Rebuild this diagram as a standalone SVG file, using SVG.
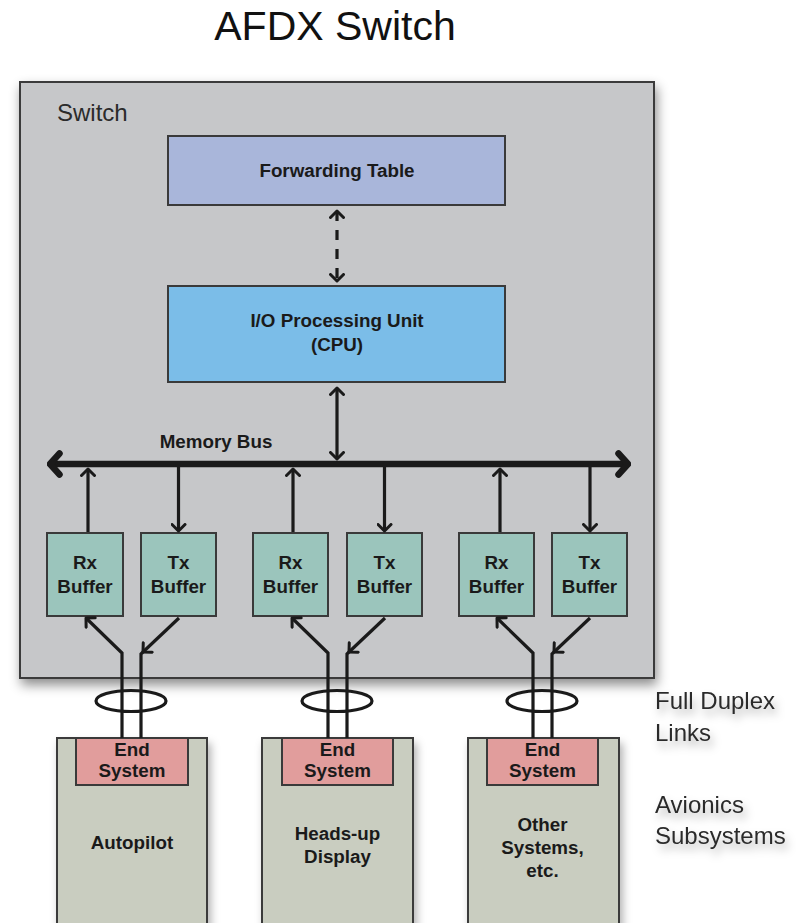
<svg xmlns="http://www.w3.org/2000/svg" width="796" height="923" viewBox="0 0 796 923">
  <defs>
    <filter id="boxShadow" x="-10%" y="-10%" width="125%" height="125%">
      <feDropShadow dx="2" dy="6" stdDeviation="6" flood-color="#000" flood-opacity="0.45"/>
    </filter>
    <filter id="softShadow" x="-20%" y="-20%" width="150%" height="160%">
      <feDropShadow dx="3" dy="6" stdDeviation="4" flood-color="#000" flood-opacity="0.3"/>
    </filter>
    <marker id="chev" viewBox="0 0 10 16" refX="8" refY="8" markerWidth="10" markerHeight="16" markerUnits="userSpaceOnUse" orient="auto-start-reverse">
      <path d="M1.5,1.5 L8,8 L1.5,14.5" fill="none" stroke="#1a1a1a" stroke-width="3" stroke-linecap="round" stroke-linejoin="round"/>
    </marker>
    <marker id="busHead" viewBox="0 0 16 28" refX="13" refY="14" markerWidth="16" markerHeight="28" markerUnits="userSpaceOnUse" orient="auto-start-reverse">
      <path d="M3.5,3.5 L13,14 L3.5,24.5" fill="none" stroke="#1a1a1a" stroke-width="6.5" stroke-linecap="round" stroke-linejoin="round"/>
    </marker>
  </defs>
  <style>
    .title { font-family: "Liberation Sans", Arial, sans-serif; font-size: 41px; fill: #111; }
    .label { font-family: "Liberation Sans", Arial, sans-serif; font-size: 24px; fill: #2b2b2b; }
    .bold { font-family: "Liberation Sans", Arial, sans-serif; font-weight: bold; font-size: 18.8px; fill: #1a1a1a; text-anchor: middle; }
    .box { stroke: #3a3a3a; stroke-width: 2; }
    .wire { fill: none; stroke: #1a1a1a; stroke-width: 3.2; }
  </style>

  <rect width="796" height="923" fill="#ffffff"/>

  <text class="title" x="335" y="40" text-anchor="middle">AFDX Switch</text>

  <!-- switch enclosure -->
  <g id="switch">
    <rect x="20" y="82" width="634" height="596" fill="#c6c7c9" stroke="#3a3a3a" stroke-width="2" filter="url(#boxShadow)"/>
    <text class="label" x="57" y="121">Switch</text>
  </g>

  <g id="forwarding-table">
    <rect class="box" x="168" y="136" width="337" height="69" fill="#a9b6da"/>
    <text class="bold" x="337" y="177">Forwarding Table</text>
  </g>

  <g id="cpu">
    <rect class="box" x="168" y="286" width="337" height="96" fill="#7bbde8"/>
    <text class="bold" x="337" y="327">I/O Processing Unit</text>
    <text class="bold" x="337" y="351">(CPU)</text>
  </g>

  <g id="memory-bus">
    <text class="bold" x="216" y="448">Memory Bus</text>
  </g>

  <!-- buffers -->
  <g id="rx1"><rect class="box" x="47" y="533" width="76" height="83" fill="#9bc5bc"/><text class="bold" x="85" y="569">Rx</text><text class="bold" x="85" y="593">Buffer</text></g>
  <g id="tx1"><rect class="box" x="141" y="533" width="75" height="83" fill="#9bc5bc"/><text class="bold" x="178.5" y="569">Tx</text><text class="bold" x="178.5" y="593">Buffer</text></g>
  <g id="rx2"><rect class="box" x="253" y="533" width="75" height="83" fill="#9bc5bc"/><text class="bold" x="290.5" y="569">Rx</text><text class="bold" x="290.5" y="593">Buffer</text></g>
  <g id="tx2"><rect class="box" x="347" y="533" width="75" height="83" fill="#9bc5bc"/><text class="bold" x="384.5" y="569">Tx</text><text class="bold" x="384.5" y="593">Buffer</text></g>
  <g id="rx3"><rect class="box" x="459" y="533" width="75" height="83" fill="#9bc5bc"/><text class="bold" x="496.5" y="569">Rx</text><text class="bold" x="496.5" y="593">Buffer</text></g>
  <g id="tx3"><rect class="box" x="552" y="533" width="75" height="83" fill="#9bc5bc"/><text class="bold" x="589.5" y="569">Tx</text><text class="bold" x="589.5" y="593">Buffer</text></g>

  <!-- avionics subsystems -->
  <g id="autopilot">
    <rect x="57" y="738" width="150" height="200" fill="#c9cdc0" stroke="#3a3a3a" stroke-width="2" filter="url(#softShadow)"/>
    <rect class="box" x="76" y="738" width="112" height="47" fill="#e19d9c"/>
    <text class="bold" x="132" y="756">End</text>
    <text class="bold" x="132" y="777">System</text>
    <text class="bold" x="132" y="849">Autopilot</text>
  </g>
  <g id="heads-up-display">
    <rect x="262" y="738" width="151" height="200" fill="#c9cdc0" stroke="#3a3a3a" stroke-width="2" filter="url(#softShadow)"/>
    <rect class="box" x="282" y="738" width="111" height="47" fill="#e19d9c"/>
    <text class="bold" x="337.5" y="756">End</text>
    <text class="bold" x="337.5" y="777">System</text>
    <text class="bold" x="337.5" y="840">Heads-up</text>
    <text class="bold" x="337.5" y="863">Display</text>
  </g>
  <g id="other-systems">
    <rect x="468" y="738" width="151" height="200" fill="#c9cdc0" stroke="#3a3a3a" stroke-width="2" filter="url(#softShadow)"/>
    <rect class="box" x="487" y="738" width="111" height="47" fill="#e19d9c"/>
    <text class="bold" x="542.5" y="756">End</text>
    <text class="bold" x="542.5" y="777">System</text>
    <text class="bold" x="542.5" y="831">Other</text>
    <text class="bold" x="542.5" y="854">Systems,</text>
    <text class="bold" x="542.5" y="877">etc.</text>
  </g>

  <!-- side captions -->
  <g id="captions" filter="url(#softShadow)">
    <text class="label" x="655" y="709">Full Duplex</text>
    <text class="label" x="655" y="741">Links</text>
    <text class="label" x="655" y="813">Avionics</text>
    <text class="label" x="655" y="844">Subsystems</text>
  </g>

  <!-- connectors -->
  <g id="connectors">
    <!-- table <-> cpu -->
    <path class="wire" d="M337,211 V281" stroke-width="4" stroke-dasharray="10,9" marker-start="url(#chev)" marker-end="url(#chev)"/>
    <!-- cpu <-> bus -->
    <path class="wire" d="M337,388 V459" marker-start="url(#chev)" marker-end="url(#chev)"/>
    <!-- memory bus -->
    <path d="M50,464 H628" stroke="#1a1a1a" stroke-width="6.5" fill="none" marker-start="url(#busHead)" marker-end="url(#busHead)"/>

    <!-- buffers <-> bus -->
    <path class="wire" d="M88,532 V469" marker-end="url(#chev)"/>
    <path class="wire" d="M178.5,467 V531" marker-end="url(#chev)"/>
    <path class="wire" d="M293,532 V469" marker-end="url(#chev)"/>
    <path class="wire" d="M384.5,467 V531" marker-end="url(#chev)"/>
    <path class="wire" d="M500,532 V469" marker-end="url(#chev)"/>
    <path class="wire" d="M590,467 V531" marker-end="url(#chev)"/>

    <!-- link 1 -->
    <path class="wire" d="M122,738 V653 L86,618" marker-end="url(#chev)"/>
    <path class="wire" d="M179,618 L143,652" marker-end="url(#chev)"/>
    <path class="wire" d="M141,738 V654 L143,652"/>
    <ellipse class="wire" cx="131" cy="701" rx="35" ry="10.5"/>

    <!-- link 2 -->
    <path class="wire" d="M328,738 V653 L292,618" marker-end="url(#chev)"/>
    <path class="wire" d="M385,618 L349,652" marker-end="url(#chev)"/>
    <path class="wire" d="M347,738 V654 L349,652"/>
    <ellipse class="wire" cx="337" cy="701" rx="35" ry="10.5"/>

    <!-- link 3 -->
    <path class="wire" d="M533,738 V653 L497,618" marker-end="url(#chev)"/>
    <path class="wire" d="M590,618 L554,652" marker-end="url(#chev)"/>
    <path class="wire" d="M552,738 V654 L554,652"/>
    <ellipse class="wire" cx="542" cy="701" rx="35" ry="10.5"/>
  </g>
</svg>
